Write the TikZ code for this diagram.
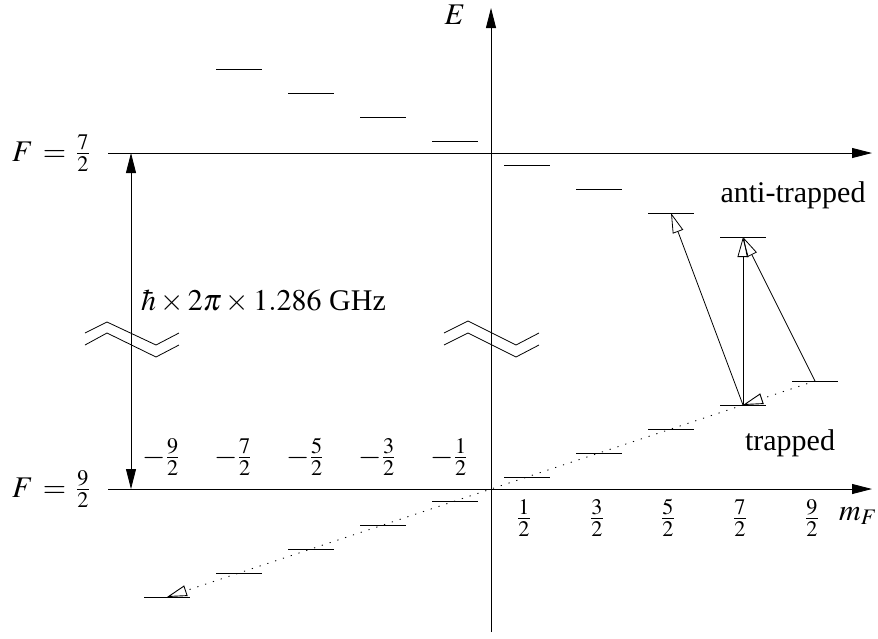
\documentclass[tikz,border=0pt]{standalone}
\usepackage{mathptmx}
\usepackage[no-math]{fontspec}
\setmainfont{Liberation Serif}
\usetikzlibrary{arrows.meta}
\begin{document}
\begin{tikzpicture}[x=1pt,y=-1pt,
  every node/.style={font=\fontsize{30}{36}\selectfont, inner sep=0pt},
  axisline/.style={line width=0.9pt, -{Triangle[length=20pt,width=10pt]}},
  levelline/.style={line width=0.8pt},
  trans/.style={line width=0.8pt, -{Triangle[open,length=20pt,width=11pt]}},
  dotline/.style={line width=0.9pt, dash pattern=on 1.2pt off 7pt, -{Triangle[open,length=20pt,width=11pt]}},
  breakline/.style={line width=0.8pt},
  gap/.style={line width=0.8pt, {Triangle[length=20pt,width=10pt]}-{Triangle[length=20pt,width=10pt]}}]
\useasboundingbox (0,0) rectangle (878,638);
% axes
\coordinate (vb) at (491,632);
\coordinate (vt) at (491,8);
\coordinate (h7l) at (108,153);
\coordinate (h7r) at (872,153);
\coordinate (h9l) at (108,489);
\coordinate (h9r) at (872,489);
\draw[axisline] (vb) -- (vt);
\draw[axisline] (h7l) -- (h7r);
\draw[axisline] (h9l) -- (h9r);
\node (E) at (455,15) {$E$};
\node[anchor=east] (F7) at (90,153) {$F\,=\,\frac{7}{2}$};
\node[anchor=east] (F9) at (90,489) {$F\,=\,\frac{9}{2}$};
% hyperfine gap arrow
\coordinate (ga) at (131,153);
\coordinate (gb) at (131,489);
\draw[gap] (ga) -- (gb);
\node[anchor=west] (hf) at (141,301) {$\hbar\times2\pi\times1.286$ GHz};
% break marks
\draw[breakline] (85,333) -- (107,322) -- (156,345) -- (179,333);
\draw[breakline] (85,345) -- (107,333) -- (156,357) -- (179,345);
\draw[breakline] (444,333) -- (468,321) -- (516,345) -- (539,333);
\draw[breakline] (444,345) -- (468,333) -- (516,357) -- (539,345);
% upper levels F=7/2
\foreach \n/\m in {u1/-3.5,u2/-2.5,u3/-1.5,u4/-0.5,u5/0.5,u6/1.5,u7/2.5,u8/3.5}{
  \coordinate (\n) at ({491+72*\m},{153+24*\m});
  \draw[levelline] ([xshift=-23pt]\n) -- ([xshift=23pt]\n);
}
% lower levels F=9/2
\foreach \n/\m in {l0/-4.5,l1/-3.5,l2/-2.5,l3/-1.5,l4/-0.5,l5/0.5,l6/1.5,l7/2.5,l8/3.5,l9/4.5}{
  \coordinate (\n) at ({491+72*\m},{489-24*\m});
  \draw[levelline] ([xshift=-23pt]\n) -- ([xshift=23pt]\n);
}
% transitions
\draw[trans] (l8) -- (u7);
\draw[trans] (l8) -- (u8);
\draw[trans] (l9) -- (u8);
\draw[dotline] (l9) -- (l8);
\draw[dotline] (l8) -- (l0);
% labels
\node (a1) at (161,457) {$-\frac{9}{2}$};
\node (a2) at (233,457) {$-\frac{7}{2}$};
\node (a3) at (305,457) {$-\frac{5}{2}$};
\node (a4) at (377,457) {$-\frac{3}{2}$};
\node (a5) at (449,457) {$-\frac{1}{2}$};
\node (b1) at (524,518) {$\frac{1}{2}$};
\node (b2) at (597,518) {$\frac{3}{2}$};
\node (b3) at (668,518) {$\frac{5}{2}$};
\node (b4) at (740,518) {$\frac{7}{2}$};
\node (b5) at (812,518) {$\frac{9}{2}$};
\node[anchor=west] (mF) at (839,516) {$m_F$};
\node (at) at (793,195) {anti-trapped};
\node (tr) at (790,443) {trapped};
\end{tikzpicture}
\end{document}
